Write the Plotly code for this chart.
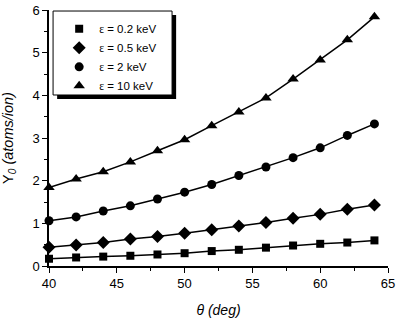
import plotly.graph_objects as go

theta = [40, 42, 44, 46, 48, 50, 52, 54, 56, 58, 60, 62, 64]
y_02 = [0.17, 0.20, 0.22, 0.24, 0.27, 0.30, 0.35, 0.38, 0.43, 0.48, 0.52, 0.55, 0.60]
y_05 = [0.44, 0.49, 0.55, 0.63, 0.69, 0.77, 0.85, 0.94, 1.02, 1.12, 1.21, 1.33, 1.43]
y_2 = [1.06, 1.15, 1.29, 1.41, 1.57, 1.73, 1.91, 2.12, 2.32, 2.54, 2.77, 3.06, 3.33]
y_10 = [1.84, 2.04, 2.21, 2.44, 2.70, 2.96, 3.29, 3.61, 3.94, 4.38, 4.83, 5.30, 5.84]

labels = ["0.2 keV", "0.5 keV", "2 keV", "10 keV"]
series = [y_02, y_05, y_2, y_10]
symbols = ["square", "diamond", "circle", "triangle-up"]
sizes = [8, 10, 9, 10]

fig = go.Figure()
for ys, sym, sz in zip(series, symbols, sizes):
    fig.add_trace(go.Scatter(
        x=theta, y=ys, mode="lines+markers",
        line=dict(color="black", width=1.5),
        marker=dict(symbol=sym, size=sz, color="black"),
        showlegend=False, cliponaxis=False,
    ))
for lab, sym, sz in zip(labels, symbols, sizes):
    fig.add_trace(go.Scatter(
        x=[None], y=[None], mode="markers",
        marker=dict(symbol=sym, size=sz, color="black"),
        name='<span style="font-family:Liberation Serif">ε</span> = ' + lab,
    ))

font = "Liberation Sans, Arial, sans-serif"
# legend frame with drop shadow
fig.add_shape(type="rect", xref="paper", yref="paper",
              x0=0.024, x1=0.375, y0=0.652, y1=0.98,
              fillcolor="black", line=dict(width=0), layer="above")
fig.add_shape(type="rect", xref="paper", yref="paper",
              x0=0.012, x1=0.363, y0=0.668, y1=0.996,
              fillcolor="white", line=dict(color="black", width=1), layer="above")

fig.update_layout(
    width=399, height=318, autosize=False,
    margin=dict(l=49, r=11, t=10, b=52, autoexpand=False),
    plot_bgcolor="white", paper_bgcolor="white",
    font=dict(family=font, size=12, color="black"),
    legend=dict(x=0.03, y=0.983, xanchor="left", yanchor="top",
                bgcolor="rgba(0,0,0,0)", borderwidth=0, tracegroupgap=0,
                font=dict(size=11.5, family=font)),
    xaxis=dict(range=[40, 65], dtick=5, tick0=40, showline=True,
               linecolor="black", linewidth=1.5, ticks="outside",
               ticklen=5, tickwidth=1.2, tickcolor="black",
               showgrid=False, zeroline=False, automargin=False,
               minor=dict(dtick=2.5, ticks="outside", ticklen=3, tickcolor="black", tickwidth=1),
               title=dict(text="<i>θ (deg)</i>", font=dict(size=14)),
               tickfont=dict(size=13)),
    yaxis=dict(range=[0, 6], dtick=1, showline=True,
               linecolor="black", linewidth=1.5, ticks="outside",
               ticklen=5, tickwidth=1.2, tickcolor="black",
               showgrid=False, zeroline=False, automargin=False,
               minor=dict(dtick=0.5, ticks="outside", ticklen=3, tickcolor="black", tickwidth=1),
               title=dict(text="Y<sub><i>0</i></sub><i> (atoms/ion)</i>", font=dict(size=14.5)),
               tickfont=dict(size=13)),
)

fig.write_html("out.html", config={"displayModeBar": False},
               post_script="document.body.style.margin='0';")
